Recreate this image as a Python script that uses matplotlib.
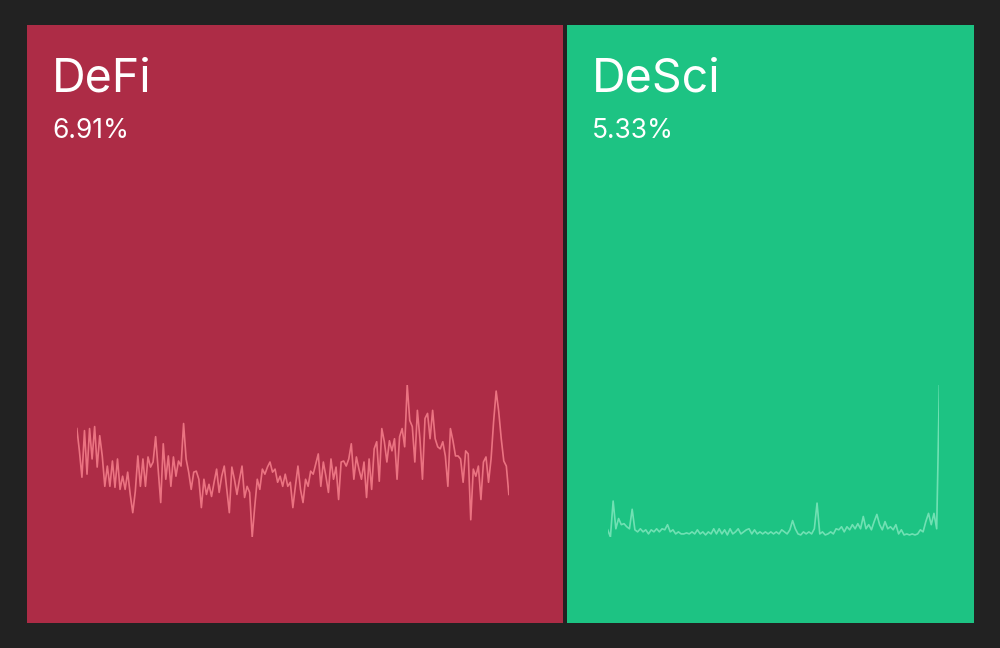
import matplotlib.pyplot as plt
import numpy as np
from matplotlib.patches import Rectangle

# treemap tiles
sectors = ["DeFi", "DeSci"]
shares = [6.91, 5.33]
share_labels = ["6.91%", "5.33%"]
tile_colors = ["#ad2c46", "#1dc383"]
line_colors = ["#f27b88", "#7ae4b9"]

# sparkline readings (relative index)
defi_trend = [
    110, 88, 62, 108, 65, 110, 80, 112, 72, 103, 83, 53, 73, 53, 78, 52, 80, 50, 63, 50,
    67, 45, 27, 48, 83, 53, 80, 53, 82, 72, 77, 102, 70, 37, 95, 60, 83, 53, 82, 63,
    78, 73, 115, 80, 67, 50, 67, 68, 60, 32, 60, 45, 55, 43, 57, 70, 47, 63, 73, 50,
    27, 72, 60, 45, 60, 73, 42, 53, 47, 3, 33, 60, 50, 70, 65, 72, 77, 67, 70, 57,
    63, 53, 65,
    53, 57, 32, 53, 73, 50, 37, 60, 53, 68, 65, 75, 85, 53, 77, 63, 47, 80, 60, 72,
    40, 77, 78, 73, 80, 95, 60, 82, 70, 60, 77, 42, 80, 50, 90, 97, 58, 110, 97, 77,
    98, 88, 100, 60, 102, 110, 92, 153, 118, 112, 77, 128, 100, 60, 120, 125, 100, 128, 100, 92,
    90, 97, 83, 53, 110, 98, 83, 83, 80, 57, 88, 85, 20, 70, 63, 73, 40, 77, 82, 57,
    80, 117, 147, 127, 100, 78, 73, 45,
]
desci_trend = [
    12, 5, 40, 13, 23, 17, 18, 15, 13, 32, 12, 10, 13, 10, 12, 8, 12, 10, 13, 10,
    13, 12, 17, 10, 12, 8, 10, 8, 8, 9, 8, 10, 8, 12, 8, 10, 7, 10, 8, 13,
    8, 13, 8, 12, 7, 13, 8, 10, 13, 8, 10, 12, 13, 8, 12, 8, 10, 8, 10, 8,
    10, 8, 10, 8, 12, 10, 8, 12, 21, 13, 8, 7, 10, 8, 10, 8, 13, 38, 8, 10,
    7, 8, 10, 8, 13, 12, 15, 10, 15, 12, 17, 13, 18, 13, 25, 13, 17, 12, 20, 27,
    17, 12, 20, 13, 15, 12, 17, 8, 12, 7, 8, 7, 8, 7, 8, 12, 10, 20, 28, 17,
    28, 13, 153,
]
trends = [defi_trend, desci_trend]

W, H = 1000, 648
fig = plt.figure(figsize=(W / 100, H / 100), dpi=100)
fig.patch.set_facecolor("#222222")

# tile layout in pixels (left edge, width)
tiles = [(27, 536), (567, 407)]
top, bottom = 25, 623
pad_left = [0.093, 0.10]
span = [0.806, 0.815]

for i, name in enumerate(sectors):
    left, w = tiles[i]
    fig.add_artist(Rectangle((left / W, 1 - bottom / H), w / W, (bottom - top) / H,
                             transform=fig.transFigure, facecolor=tile_colors[i],
                             edgecolor="none", zorder=0))
    fig.text((left + 25) / W, 1 - 91 / H, name, color="white", fontsize=33.5,
             family="Inter", ha="left", va="baseline")
    fig.text((left + 25) / W, 1 - 138 / H, share_labels[i], color="white", fontsize=19,
             family="Inter", ha="left", va="baseline")

    # sparkline
    ax = fig.add_axes([(left + pad_left[i] * w) / W, 1 - 537 / H, span[i] * w / W, 152 / H])
    y = np.array(trends[i])
    ax.plot(np.arange(len(y)), y, color=line_colors[i], lw=1.2, alpha=0.9)
    ax.set_xlim(0, len(y) - 1)
    ax.set_ylim(y.min(), y.max())
    ax.axis("off")

plt.savefig("out.png", dpi=100, facecolor=fig.get_facecolor())
